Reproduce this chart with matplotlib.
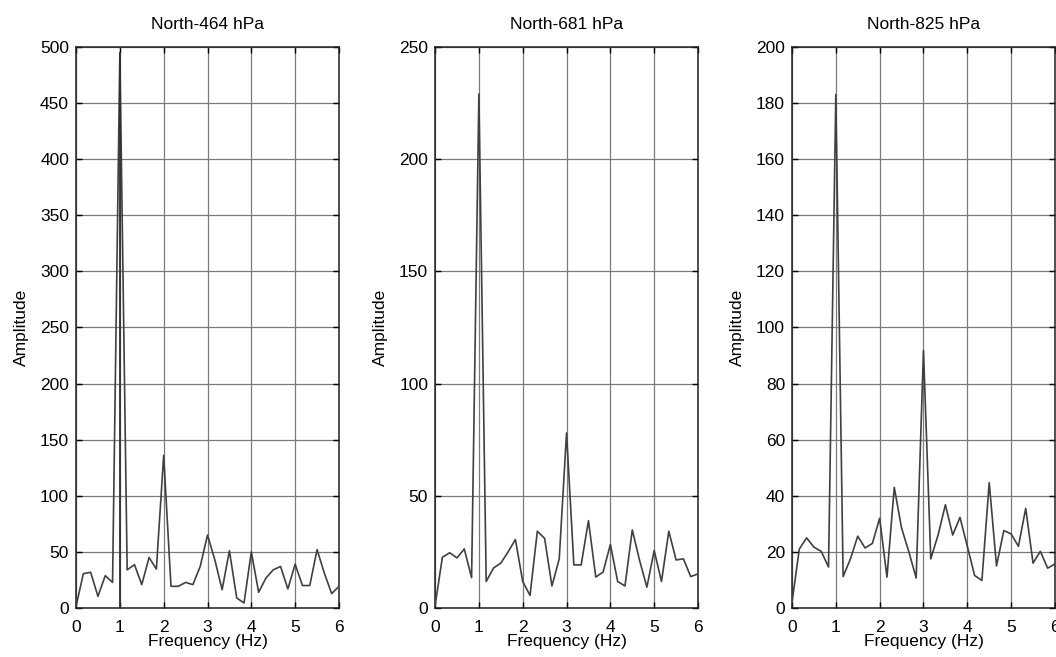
"""Amplitude spectra for three North pressure levels (MATLAB-style panels)."""

import matplotlib.pyplot as plt
import numpy as np

plt.rcParams["font.family"] = ["Liberation Sans", "DejaVu Sans"]

# frequency grid, 1/6 Hz step from 0 to 6 Hz
freq = np.arange(37) / 6.0

titles = ["North-464 hPa", "North-681 hPa", "North-825 hPa"]

amp_464 = [1.5, 30.6, 31.8, 10.4, 28.8, 22.8, 495, 34, 38.6, 20.8, 45, 34.7,
           136, 19.3, 19.3, 22.8, 20.8, 37, 65, 43, 16.3, 51, 8.9, 4.5,
           50, 14, 26.7, 34, 37, 17, 39, 20, 20, 52, 31, 12.8, 19.3]
amp_681 = [1, 22.6, 24.6, 22.3, 26.3, 13.5, 229, 11.8, 17.8, 20, 25, 30.5,
           11.8, 5.6, 34.2, 31, 9.8, 21.9, 78, 19.2, 19.2, 38.9, 13.8, 16,
           28.3, 11.8, 9.8, 34.8, 21.2, 9.3, 25.6, 11.8, 34.2, 21.4, 21.9, 14, 15.2]
amp_825 = [2, 21, 25, 21.7, 20.2, 14.6, 183, 11.2, 17.5, 25.6, 21.4, 23,
           32, 11, 43, 28.5, 20, 10.7, 91.8, 17.5, 26, 36.8, 26, 32.3,
           22, 11.6, 9.8, 44.7, 15, 27.6, 26.4, 22, 35.5, 16, 20.2, 14.2, 15.7]

amps = [amp_464, amp_681, amp_825]
ylims = [500, 250, 200]
ysteps = [50, 50, 20]

fig = plt.figure(figsize=(10.56, 6.57), dpi=100)
lefts = [0.072, 0.412, 0.750]

for i in range(3):
    ax = fig.add_axes([lefts[i], 0.0746, 0.249, 0.854])
    amp = np.array(amps[i])
    ax.plot(freq, amp, color="#404040", lw=1.2, zorder=3)
    if i == 0:
        # first panel shows a full-height stroke at the main peak
        k = int(np.argmax(amp))
        ax.vlines(freq[k], 0, amp[k], color="#303030", lw=1.3, zorder=3)

    ax.set_xlim(0, 6)
    ax.set_ylim(0, ylims[i])
    ax.set_xticks(range(7))
    ax.set_yticks(np.arange(0, ylims[i] + 1, ysteps[i]))
    ax.grid(True, color="#7a7a7a", lw=0.9)
    ax.tick_params(direction="in", top=True, right=True, labelsize=12.5,
                   length=4, width=1, pad=5)
    ax.tick_params(axis="x", pad=9)
    for s in ax.spines.values():
        s.set_linewidth(1.1)
        s.set_color("#202020")

    ax.set_title(titles[i], fontsize=12.5, pad=13)
    ax.set_xlabel("Frequency (Hz)", fontsize=12.5, labelpad=-1)
    ax.set_ylabel("Amplitude", fontsize=12.5, labelpad=8)

plt.savefig("out.png", dpi=100)
